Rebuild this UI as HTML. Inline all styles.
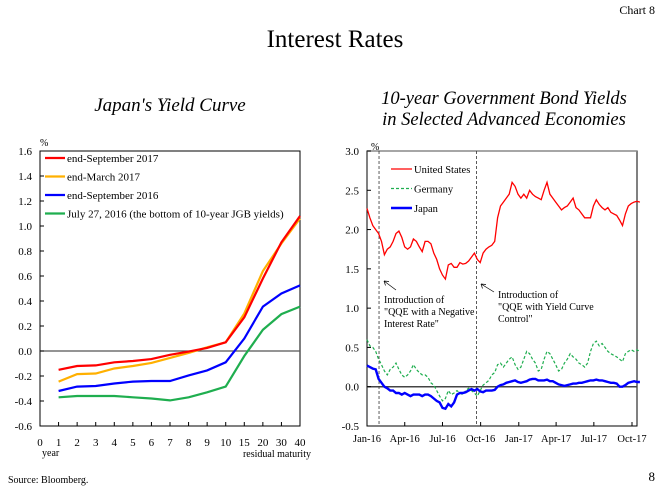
<!DOCTYPE html>
<html><head><meta charset="utf-8">
<style>
body{margin:0;background:#fff;}
svg{display:block;font-family:"Liberation Serif",serif;}
</style></head>
<body>
<svg width="662" height="492" viewBox="0 0 662 492">
<text x="655" y="14" font-size="12" text-anchor="end">Chart 8</text>
<text x="335" y="47" font-size="25" text-anchor="middle">Interest Rates</text>
<text x="170" y="111" font-size="19" font-style="italic" text-anchor="middle">Japan's Yield Curve</text>
<text x="504" y="104" font-size="18.5" font-style="italic" text-anchor="middle">10-year Government Bond Yields</text>
<text x="504" y="125" font-size="18.5" font-style="italic" text-anchor="middle">in Selected Advanced Economies</text>
<text x="8" y="483" font-size="10">Source: Bloomberg.</text>
<text x="655" y="481" font-size="13" text-anchor="end">8</text>
<g id="left"></g>
<g id="right"></g>
</svg>
<script>
const NS="http://www.w3.org/2000/svg";
function mk(parent,tag,attrs,text){const e=document.createElementNS(NS,tag);for(const k in attrs)e.setAttribute(k,attrs[k]);if(text!==undefined)e.textContent=text;parent.appendChild(e);return e;}

// ---------- Left chart data ----------
const maturityLabels=["0","1","2","3","4","5","6","7","8","9","10","15","20","30","40"];
const yieldTicks=[1.6,1.4,1.2,1.0,0.8,0.6,0.4,0.2,0.0,-0.2,-0.4,-0.6];
const curveSep2017=[-0.15,-0.12,-0.115,-0.09,-0.08,-0.065,-0.03,-0.005,0.025,0.07,0.27,0.58,0.87,1.08];
const curveMar2017=[-0.245,-0.185,-0.18,-0.14,-0.12,-0.095,-0.055,-0.015,0.03,0.07,0.3,0.64,0.86,1.06];
const curveSep2016=[-0.32,-0.285,-0.28,-0.26,-0.245,-0.24,-0.24,-0.195,-0.155,-0.09,0.1,0.355,0.46,0.525];
const curveJul2016=[-0.37,-0.36,-0.36,-0.36,-0.37,-0.38,-0.395,-0.37,-0.33,-0.285,-0.04,0.17,0.295,0.355];
const leftSeriesNames=["end-September 2017","end-March 2017","end-September 2016","July 27, 2016 (the bottom of 10-year JGB yields)"];

// ---------- Right chart data (weekly from Jan-2016) ----------
const monthLabels=["Jan-16","Apr-16","Jul-16","Oct-16","Jan-17","Apr-17","Jul-17","Oct-17"];
const rateTicks=[3.0,2.5,2.0,1.5,1.0,0.5,0.0,-0.5];
const usYield=[2.27,2.15,2.05,2.0,1.95, 1.85,1.68,1.75,1.78, 1.85,1.95,1.98,1.9, 1.78,1.75,1.78,1.88,1.85, 1.78,1.72,1.85,1.85, 1.82,1.7,1.62,1.5, 1.42,1.37,1.55,1.57,1.52, 1.52,1.58,1.56,1.57, 1.6,1.65,1.7,1.62, 1.58,1.7,1.75,1.78,1.8, 1.85,2.15,2.3,2.35, 2.4,2.45,2.6,2.55,2.45, 2.4,2.45,2.4,2.5, 2.45,2.42,2.4,2.38, 2.5,2.6,2.45,2.4, 2.35,2.3,2.25,2.28,2.3, 2.35,2.4,2.28,2.25, 2.2,2.15,2.15,2.15, 2.3,2.38,2.32,2.28,2.25, 2.28,2.22,2.2,2.18, 2.12,2.05,2.2,2.3, 2.33,2.35,2.36,2.35];
const deYield=[0.6,0.52,0.5,0.45,0.35, 0.28,0.2,0.15,0.22, 0.25,0.3,0.22,0.15, 0.12,0.15,0.2,0.28,0.22, 0.18,0.15,0.15,0.12, 0.05,0.02,-0.05,-0.12, -0.18,-0.15,-0.05,-0.1,-0.08, -0.05,-0.08,-0.1,-0.05, -0.02,-0.05,-0.08,-0.12, -0.05,0.02,0.05,0.08,0.15, 0.18,0.28,0.3,0.25, 0.3,0.35,0.38,0.28,0.22, 0.25,0.35,0.45,0.42, 0.35,0.3,0.2,0.22, 0.35,0.45,0.42,0.35, 0.28,0.2,0.22,0.3,0.35, 0.42,0.38,0.35,0.3, 0.28,0.25,0.3,0.45, 0.55,0.58,0.52,0.55,0.5, 0.45,0.42,0.4,0.38, 0.35,0.32,0.42,0.45, 0.47,0.45,0.47,0.45];
const jpYield=[0.27,0.25,0.23,0.22,0.1, 0.05,0.0,-0.02,-0.05, -0.05,-0.08,-0.08,-0.1, -0.08,-0.1,-0.12,-0.1,-0.1, -0.1,-0.12,-0.1,-0.1, -0.12,-0.15,-0.18,-0.2, -0.27,-0.28,-0.22,-0.25,-0.2, -0.1,-0.08,-0.08,-0.07, -0.05,-0.03,-0.05,-0.03, -0.06,-0.07,-0.05,-0.05,-0.05, -0.04,0.0,0.02,0.03, 0.05,0.06,0.07,0.08,0.06, 0.05,0.06,0.07,0.09, 0.1,0.1,0.08,0.08, 0.08,0.09,0.07,0.07, 0.05,0.03,0.02,0.01,0.02, 0.03,0.04,0.04,0.05, 0.05,0.06,0.07,0.08, 0.08,0.09,0.08,0.08,0.07, 0.06,0.05,0.05,0.04, 0.0,0.0,0.02,0.05, 0.06,0.07,0.06,0.06];
const monthStartDays=[0,91,182,274,366,456,547,639];
const eventDays=[29,264];

// ---------- Left chart ----------
(function(){
const g=document.getElementById('left');
const x0=40,x1=300,yTop=151,yBot=426;
const X=i=>x0+(x1-x0)*i/(maturityLabels.length-1);
const Y=v=>yTop+(1.6-v)/(2.2)*(yBot-yTop);
const box=mk(g,'rect',{x:x0,y:yTop,width:x1-x0,height:yBot-yTop,fill:'none',stroke:'#000','stroke-width':1});

const zl=mk(g,'line',{x1:x0,x2:x1,y1:Y(0),y2:Y(0),stroke:'#555','stroke-width':1.2});

yieldTicks.forEach(v=>{
 const t=mk(g,'text',{x:32,y:Y(v)+4,'font-size':11,'text-anchor':'end'},v.toFixed(1));
 
 mk(g,'line',{x1:x0,x2:x0+4,y1:Y(v),y2:Y(v),stroke:'#000'});
});
maturityLabels.forEach((l,i)=>{
 const t=mk(g,'text',{x:X(i),y:446,'font-size':11,'text-anchor':'middle'},l);
 
 mk(g,'line',{x1:X(i),x2:X(i),y1:yBot,y2:yBot-4,stroke:'#000'});
});
let t=mk(g,'text',{x:40,y:146,'font-size':10},'%');
t=mk(g,'text',{x:42,y:456,'font-size':10},'year');
t=mk(g,'text',{x:311,y:457,'font-size':10,'text-anchor':'end'},'residual maturity');
const series=[curveJul2016,curveSep2016,curveMar2017,curveSep2017];
const cols=['#1fae4f','#0000ff','#ffb000','#ff0000'];
const names=['line-jul-2016','line-sep-2016','line-mar-2017','line-sep-2017'];
series.forEach((s,k)=>{
 const d=s.map((v,i)=>(i?'L':'M')+X(i+1).toFixed(1)+','+Y(v).toFixed(1)).join('');
 const p=mk(g,'path',{d:d,fill:'none',stroke:cols[k],'stroke-width':2.2});
 
});
const lc=['#ff0000','#ffb000','#0000ff','#1fae4f'];
leftSeriesNames.forEach((n,k)=>{
 const y=158+k*18.5;
 const l=mk(g,'line',{x1:45,x2:65,y1:y,y2:y,stroke:lc[k],'stroke-width':2.2});
 
 const tt=mk(g,'text',{x:67,y:y+4,'font-size':11},n);
 
});
})();

// ---------- Right chart ----------
(function(){
const g=document.getElementById('right');
const x0=367,x1=637,yTop=151,yBot=426;
const X=d=>x0+d*(632-367)/639;
const Y=v=>yTop+(3.0-v)/3.5*(yBot-yTop);
const box=mk(g,'rect',{x:x0,y:yTop,width:x1-x0,height:yBot-yTop,fill:'none',stroke:'#000','stroke-width':1});

mk(g,'line',{x1:x0,x2:x1,y1:yTop,y2:yTop,stroke:'#888','stroke-width':1.5});
const zl=mk(g,'line',{x1:x0,x2:x1,y1:Y(0),y2:Y(0),stroke:'#444','stroke-width':1.5});

rateTicks.forEach(v=>{
 const t=mk(g,'text',{x:359,y:Y(v)+4,'font-size':11,'text-anchor':'end'},v.toFixed(1));
 
 mk(g,'line',{x1:x0,x2:x0+4,y1:Y(v),y2:Y(v),stroke:'#000'});
});
monthLabels.forEach((l,i)=>{
 const t=mk(g,'text',{x:X(monthStartDays[i]),y:442,'font-size':10.5,'text-anchor':'middle'},l);
 
 mk(g,'line',{x1:X(monthStartDays[i]),x2:X(monthStartDays[i]),y1:yBot,y2:yBot-4,stroke:'#000'});
});
let t=mk(g,'text',{x:371,y:150,'font-size':10},'%');
eventDays.forEach(d=>{
 const l=mk(g,'line',{x1:X(d),x2:X(d),y1:yTop,y2:yBot,stroke:'#333','stroke-dasharray':'3,2','stroke-width':0.8});
 
});
const draw=(arr,col,w,dash,name)=>{
 const d=arr.map((v,i)=>(i?'L':'M')+X(i*7).toFixed(1)+','+Y(v).toFixed(1)).join('');
 const p=mk(g,'path',{d:d,fill:'none',stroke:col,'stroke-width':w});
 if(dash)p.setAttribute('stroke-dasharray',dash);
 
};
draw(usYield,'#ff0000',1.3,null,'line-united-states');
draw(deYield,'#1fae4f',1.2,'3,2','line-germany');
draw(jpYield,'#0000ff',2.4,null,'line-japan');
const leg=[['United States','#ff0000',1.3,null],['Germany','#1fae4f',1.2,'3,2'],['Japan','#0000ff',2.6,null]];
leg.forEach((e,k)=>{
 const y=169+k*19.5;
 const l=mk(g,'line',{x1:391,x2:412,y1:y,y2:y,stroke:e[1],'stroke-width':e[2]});
 if(e[3])l.setAttribute('stroke-dasharray',e[3]);
 
 const tt=mk(g,'text',{x:414,y:y+4,'font-size':10.5},e[0]);
 
});
const a1=mk(g,'g',{});
mk(a1,'line',{x1:396,y1:290,x2:384,y2:281,stroke:'#000','stroke-width':0.7});
mk(a1,'path',{d:'M384,281 l5,0.5 M384,281 l1.5,4.5',stroke:'#000','stroke-width':0.7,fill:'none'});
['Introduction of','"QQE with a Negative','Interest Rate"'].forEach((s,i)=>mk(a1,'text',{x:384,y:303+i*12,'font-size':10},s));
const a2=mk(g,'g',{});
mk(a2,'line',{x1:494,y1:292,x2:481,y2:284,stroke:'#000','stroke-width':0.7});
mk(a2,'path',{d:'M481,284 l5,0.5 M481,284 l1.5,4.5',stroke:'#000','stroke-width':0.7,fill:'none'});
['Introduction of','"QQE with Yield Curve','Control"'].forEach((s,i)=>mk(a2,'text',{x:498,y:298+i*12,'font-size':10},s));
})();
</script>
</body></html>
